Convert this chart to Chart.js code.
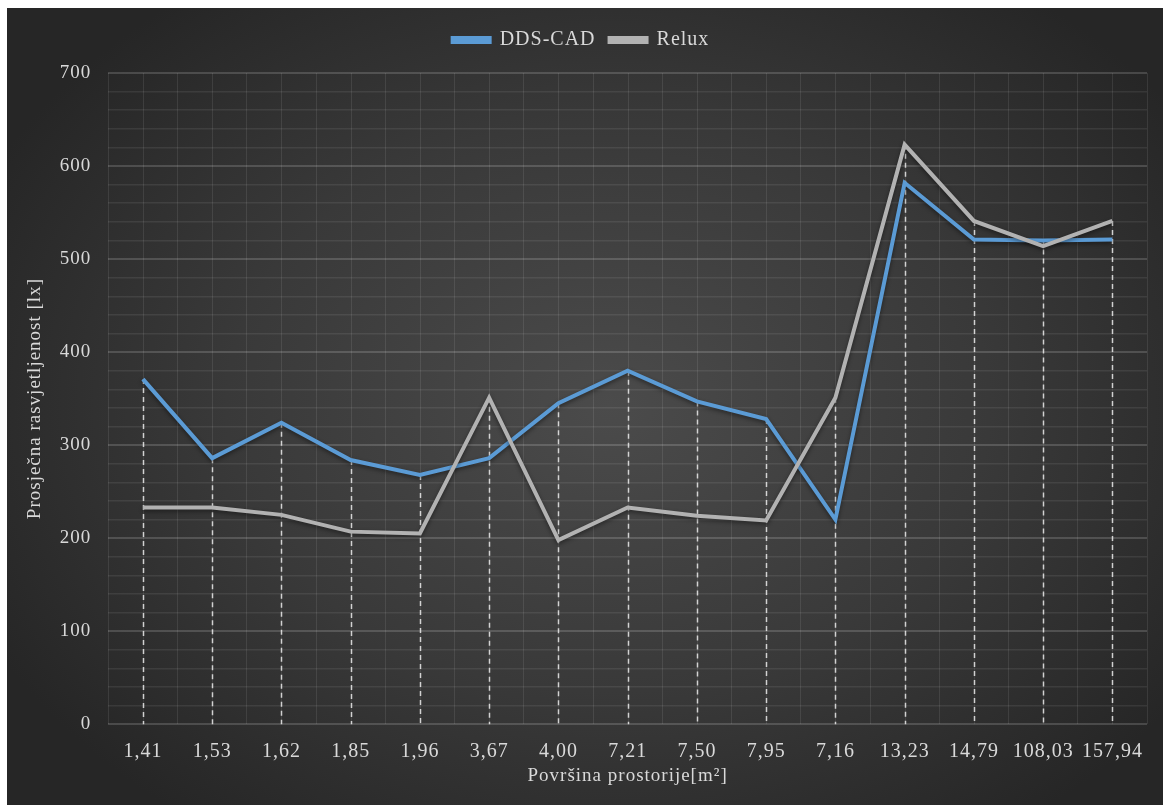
<!DOCTYPE html>
<html>
<head>
<meta charset="utf-8">
<script src="https://cdn.jsdelivr.net/npm/chart.js@4"></script>
<style>
  html, body { margin: 0; padding: 0; background: #ffffff; }
  #wrap {
    position: absolute; left: 7px; top: 8px; width: 1156px; height: 797px;
    background: radial-gradient(ellipse 60% 65% at 52% 50%, #4b4b4b 0%, #393939 55%, #262626 100%);
  }
</style>
</head>
<body>
<div id="wrap"><canvas id="myChart"></canvas></div>
<script>
const categories = ["1,41", "1,53", "1,62", "1,85", "1,96", "3,67", "4,00", "7,21", "7,50", "7,95", "7,16", "13,23", "14,79", "108,03", "157,94"];
const ddsCad = [371, 286, 324, 284, 268, 286, 345, 380, 347, 328, 220, 582, 521, 520, 521];
const relux = [233, 233, 225, 207, 205, 351, 198, 233, 224, 219, 351, 623, 541, 514, 541];
const yTickLabels = [0, 100, 200, 300, 400, 500, 600, 700];

const font = "'Liberation Serif', 'Times New Roman', serif";
const textColor = "#d9d9d9";

// Excel spaces Times text a bit wider; canvas resets state on resize so set it per pass
const spacing = {
  id: "spacing",
  beforeLayout(chart) { chart.ctx.letterSpacing = "1px"; },
  beforeDraw(chart) { chart.ctx.letterSpacing = "1px"; }
};

// faint vertical lines at category centres + dashed drop lines from the top point
const dropLines = {
  id: "dropLines",
  beforeDatasetsDraw(chart) {
    const { ctx, chartArea, scales } = chart;
    const metas = chart.getSortedVisibleDatasetMetas();
    ctx.save();
    ctx.strokeStyle = "rgba(255,255,255,0.09)";
    ctx.lineWidth = 1;
    categories.forEach((c, i) => {
      const x = Math.round(scales.x.getPixelForValue(i)) + 0.5;
      ctx.beginPath();
      ctx.moveTo(x, chartArea.top);
      ctx.lineTo(x, chartArea.bottom);
      ctx.stroke();
    });
    ctx.strokeStyle = "rgba(235,235,235,0.85)";
    ctx.lineWidth = 1.5;
    ctx.setLineDash([5, 4]);
    categories.forEach((c, i) => {
      const x = Math.round(scales.x.getPixelForValue(i)) + 0.5;
      const top = Math.min(...metas.map(m => m.data[i].y));
      ctx.beginPath();
      ctx.moveTo(x, top);
      ctx.lineTo(x, chartArea.bottom);
      ctx.stroke();
    });
    ctx.restore();
    // soft shadow under the series lines
    ctx.save();
    ctx.shadowColor = "rgba(0,0,0,0.45)";
    ctx.shadowBlur = 4;
    ctx.shadowOffsetY = 2;
  },
  afterDatasetsDraw(chart) {
    chart.ctx.restore();
  }
};

// push the plot area a bit further below the legend
const legendGap = {
  id: "legendGap",
  beforeInit(chart) {
    const fit = chart.legend.fit;
    chart.legend.fit = function () {
      fit.bind(chart.legend)();
      this.height += 13;
    };
  }
};

const ctx = document.getElementById("myChart").getContext("2d");
const myChart = new Chart(ctx, {
  type: "line",
  data: {
    labels: categories,
    datasets: [
      {
        label: "DDS-CAD",
        data: ddsCad,
        borderColor: "#5b9bd5",
        backgroundColor: "#5b9bd5",
        borderWidth: 4,
        pointRadius: 0,
        tension: 0,
        order: 1
      },
      {
        label: "Relux",
        data: relux,
        borderColor: "#b2b2b2",
        backgroundColor: "#b2b2b2",
        borderWidth: 4,
        pointRadius: 0,
        tension: 0,
        order: 0
      }
    ]
  },
  options: {
    responsive: true,
    maintainAspectRatio: false,
    animation: false,
    layout: { padding: { left: 8, right: 16, top: 8, bottom: 14 } },
    plugins: {
      legend: {
        display: true,
        position: "top",
        labels: {
          color: textColor,
          font: { family: font, size: 20 },
          boxWidth: 37,
          boxHeight: 4,
          padding: 14,
          sort: (a, b) => a.datasetIndex - b.datasetIndex
        }
      },
      tooltip: { enabled: false }
    },
    scales: {
      x: {
        offset: true,
        grid: {
          offset: true,
          color: "rgba(255,255,255,0.09)",
          lineWidth: 1,
          drawTicks: false
        },
        border: { display: false },
        ticks: {
          color: textColor,
          font: { family: font, size: 20 },
          padding: 16,
          maxRotation: 0,
          autoSkip: false
        },
        title: {
          display: true,
          text: "Površina prostorije[m²]",
          color: textColor,
          font: { family: font, size: 19 },
          padding: { top: -16, bottom: 4 }
        }
      },
      y: {
        min: 0,
        max: 700,
        grid: {
          color: c => (c.tick.value % 100 === 0 ? "rgba(255,255,255,0.16)" : "rgba(255,255,255,0.08)"),
          lineWidth: c => (c.tick.value % 100 === 0 ? 2 : 1.5),
          drawTicks: false
        },
        border: { display: false },
        ticks: {
          stepSize: 20,
          autoSkip: false,
          color: textColor,
          font: { family: font, size: 19 },
          padding: 17,
          callback: v => (yTickLabels.includes(v) ? String(v) : "")
        },
        title: {
          display: true,
          text: "Prosječna rasvjetljenost [lx]",
          color: textColor,
          font: { family: font, size: 19 },
          padding: { top: 9, bottom: -4 }
        }
      }
    }
  },
  plugins: [spacing, dropLines, legendGap]
});
</script>
</body>
</html>
